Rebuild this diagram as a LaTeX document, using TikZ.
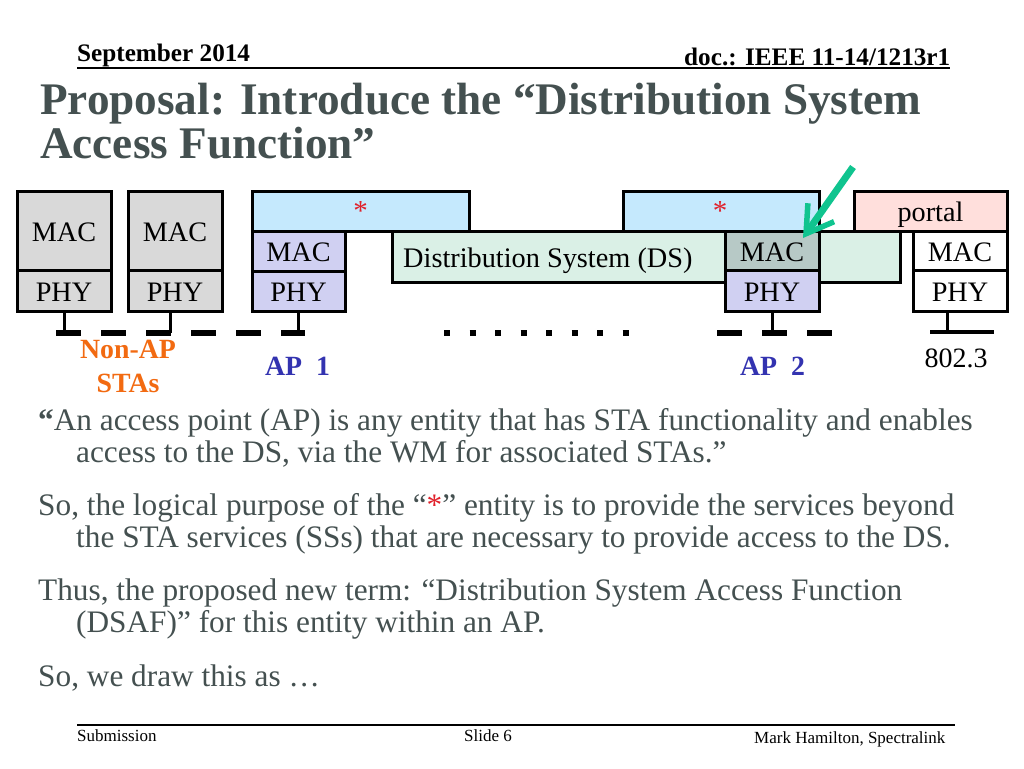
\documentclass[tikz,border=0pt]{standalone}
\usepackage{fontspec}
\setmainfont{Liberation Serif}
\usetikzlibrary{arrows.meta}
\definecolor{slategray}{HTML}{445050}
\definecolor{stagray}{HTML}{D9D9D9}
\definecolor{dsafblue}{HTML}{C5E9FD}
\definecolor{aplilac}{HTML}{D0D0F2}
\definecolor{dsgreen}{HTML}{DAF0E6}
\definecolor{macgray}{HTML}{B7C9C6}
\definecolor{portalpink}{HTML}{FFDFDC}
\definecolor{arrowgreen}{HTML}{10C48F}
\definecolor{staorange}{HTML}{F26A11}
\definecolor{apblue}{HTML}{3333B0}
\definecolor{starred}{HTML}{E0202A}
\tikzset{
  block/.style={draw=black,line width=3pt,inner sep=0pt,text height=21pt,text depth=0pt,font=\fontsize{28.2}{28.2}\selectfont},
  bus/.style={line width=6.5pt,dash pattern=on 25pt off 20pt},
  dots/.style={line width=6.5pt,dash pattern=on 6pt off 19.5pt},
  wire/.style={line width=3pt},
  bodyline/.style={anchor=base west,inner sep=0pt,text=slategray,font=\fontsize{31.3}{31.3}\selectfont},
  titleline/.style={anchor=base west,inner sep=0pt,text=slategray,font=\fontsize{45.2}{45.2}\selectfont\bfseries},
  headline/.style={anchor=base west,inner sep=0pt,font=\fontsize{25.2}{25.2}\selectfont\bfseries},
  footline/.style={anchor=base west,inner sep=0pt,font=\fontsize{17}{17}\selectfont},
  apname/.style={inner sep=0pt,align=center,font=\fontsize{27.8}{34}\selectfont\bfseries}
}
\begin{document}
\begin{tikzpicture}[line cap=butt,line join=miter,x=1pt,y=-1pt]
\useasboundingbox (0,0) rectangle (1024,768);
% header and title
\node[headline] (date) at (77,62) {September 2014};
\node[headline] (docnr) at (684,65) {doc.: IEEE 11-14/1213r1};
\coordinate (headA) at (77,68);
\coordinate (headB) at (950,68);
\draw[line width=2pt] (headA) -- (headB);
\node[titleline] (titleA) at (40,114.5) {Proposal: Introduce the “Distribution System};
\node[titleline] (titleB) at (40,158) {Access Function”};
% distribution system, behind AP 2
\node[block,fill=dsgreen,minimum width=508pt,minimum height=51pt] (ds) at (646,256.5) {};
\node[inner sep=0pt,anchor=base west,font=\fontsize{28.3}{28.3}\selectfont] (dslabel) at (403,267) {Distribution System (DS)};
% stations
\node[block,fill=stagray,minimum width=94pt,minimum height=79pt] (macA) at (64,230.5) {MAC};
\node[block,fill=stagray,minimum width=94pt,minimum height=41pt] (phyA) at (64,290.5) {PHY};
\node[block,fill=stagray,minimum width=94pt,minimum height=79pt] (macB) at (175,230.5) {MAC};
\node[block,fill=stagray,minimum width=94pt,minimum height=41pt] (phyB) at (175,290.5) {PHY};
% AP 1
\node[block,fill=dsafblue,minimum width=217pt,minimum height=40pt] (dsafA) at (360.5,211) {};
\node[inner sep=0pt,text=starred,font=\fontsize{29}{29}\selectfont] (starA) at (360.5,211) {*};
\node[block,fill=aplilac,minimum width=93pt,minimum height=40pt] (macC) at (298.5,251) {MAC};
\node[block,fill=aplilac,minimum width=93pt,minimum height=40pt] (phyC) at (298.5,291) {PHY};
% AP 2
\node[block,fill=dsafblue,minimum width=196pt,minimum height=40pt] (dsafB) at (721,211) {};
\node[inner sep=0pt,text=starred,font=\fontsize{29}{29}\selectfont] (starB) at (720,211) {*};
\node[block,fill=macgray,minimum width=94pt,minimum height=39pt] (macD) at (772,250.5) {MAC};
\node[block,fill=aplilac,minimum width=94pt,minimum height=41pt] (phyD) at (772,290.5) {PHY};
% portal
\node[block,fill=portalpink,minimum width=153pt,minimum height=40pt] (portal) at (930.5,211) {portal};
\node[block,fill=white,minimum width=94pt,minimum height=39pt] (macE) at (960,250.5) {MAC};
\node[block,fill=white,minimum width=94pt,minimum height=41pt] (phyE) at (960,290.5) {PHY};
% wires
\coordinate (tapA) at (64,333);
\coordinate (tapB) at (170,333);
\coordinate (tapC) at (298,333);
\coordinate (tapD) at (772,333);
\coordinate (tapE) at (947,332);
\draw[wire] (phyA.south -| tapA) -- (tapA);
\draw[wire] (phyB.south -| tapB) -- (tapB);
\draw[wire] (phyC.south -| tapC) -- (tapC);
\draw[wire] (phyD.south -| tapD) -- (tapD);
\draw[wire] (phyE.south -| tapE) -- (tapE);
\coordinate (busA) at (56,333);
\coordinate (busB) at (305,333);
\coordinate (busC) at (444,333);
\coordinate (busD) at (630,333);
\coordinate (busE) at (717,333);
\coordinate (busF) at (832,333);
\coordinate (busG) at (930,332);
\coordinate (busH) at (994,332);
\draw[bus] (busA) -- (busB);
\draw[dots] (busC) -- (busD);
\draw[bus] (busE) -- (busF);
\draw[line width=4pt] (busG) -- (busH);
% labels under the buses
\node[apname,text=staorange] (nonap) at (128,366) {Non-AP\\STAs};
\node[apname,text=apblue] (apA) at (297.5,366) {AP\ \ 1};
\node[apname,text=apblue] (apB) at (772.5,366) {AP\ \ 2};
\node[inner sep=0pt,font=\fontsize{28}{28}\selectfont] (ethernet) at (956,358) {802.3};
% arrow to the MAC of AP 2
\coordinate (arrowA) at (853,167);
\coordinate (arrowB) at (803,238);
\draw[line width=7pt,draw=arrowgreen,-{Straight Barb[length=26pt,width=32pt,line width=5.5pt]}] (arrowA) -- (arrowB);
% body text
\node[bodyline] (bodyA) at (38,430) {\textbf{“}An access point (AP) is any entity that has STA functionality and enables};
\node[bodyline] (bodyB) at (76,462) {access to the DS, via the WM for associated STAs.”};
\node[bodyline] (bodyC) at (38,515) {So, the logical purpose of the “\textcolor{starred}{*}” entity is to provide the services beyond};
\node[bodyline] (bodyD) at (76,547) {the STA services (SSs) that are necessary to provide access to the DS.};
\node[bodyline] (bodyE) at (38,600) {Thus, the proposed new term: “Distribution System Access Function};
\node[bodyline] (bodyF) at (76,632) {(DSAF)” for this entity within an AP.};
\node[bodyline] (bodyG) at (38,686) {So, we draw this as …};
% footer
\coordinate (footA) at (77,724.5);
\coordinate (footB) at (955,724.5);
\draw[line width=2pt] (footA) -- (footB);
\node[footline] (submission) at (77,741) {Submission};
\node[footline] (slide) at (464,741) {Slide 6};
\node[footline] (author) at (754,743) {Mark Hamilton, Spectralink};
\end{tikzpicture}
\end{document}
